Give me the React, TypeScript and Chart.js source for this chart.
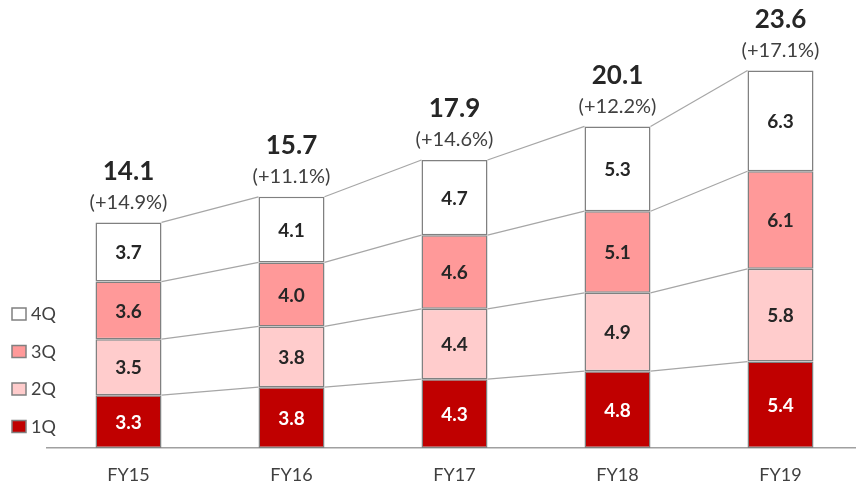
import React, { useEffect, useRef } from "react";
import { Chart, registerables } from "chart.js";

Chart.register(...registerables);

const categories = ["FY15", "FY16", "FY17", "FY18", "FY19"];
const q1 = [3.3, 3.8, 4.3, 4.8, 5.4];
const q2 = [3.5, 3.8, 4.4, 4.9, 5.8];
const q3 = [3.6, 4.0, 4.6, 5.1, 6.1];
const q4 = [3.7, 4.1, 4.7, 5.3, 6.3];
const totals = ["14.1", "15.7", "17.9", "20.1", "23.6"];
const growth = ["(+14.9%)", "(+11.1%)", "(+14.6%)", "(+12.2%)", "(+17.1%)"];
const seriesLabels = ["1Q", "2Q", "3Q", "4Q"];
const seriesColors = ["#C00000", "#FFCCCC", "#FF9999", "#FFFFFF"];
const labelColors = ["#FFFFFF", "#262626", "#262626", "#262626"];

const FONT = "Lato, 'Liberation Sans', sans-serif";

const overlay = {
  id: "overlay",
  afterDatasetsDraw(chart: any) {
    const ctx = chart.ctx;
    ctx.save();
    // connector lines
    ctx.strokeStyle = "#A6A6A6";
    ctx.lineWidth = 1.2;
    chart.data.datasets.forEach((_ds: any, i: number) => {
      const meta = chart.getDatasetMeta(i);
      for (let j = 0; j < meta.data.length - 1; j++) {
        const a = meta.data[j];
        const b = meta.data[j + 1];
        ctx.beginPath();
        ctx.moveTo(a.x + a.width / 2, a.y);
        ctx.lineTo(b.x - b.width / 2, b.y);
        ctx.stroke();
      }
    });
    // segment labels
    ctx.textAlign = "center";
    ctx.textBaseline = "middle";
    chart.data.datasets.forEach((ds: any, i: number) => {
      const meta = chart.getDatasetMeta(i);
      ctx.fillStyle = labelColors[i];
      ctx.font = `bold 19px ${FONT}`;
      meta.data.forEach((bar: any, j: number) => {
        ctx.fillText(ds.data[j].toFixed(1), bar.x, (bar.y + bar.base) / 2 + 1);
      });
    });
    // totals
    const top = chart.getDatasetMeta(chart.data.datasets.length - 1);
    top.data.forEach((bar: any, j: number) => {
      ctx.fillStyle = "#262626";
      ctx.font = `bold 26px ${FONT}`;
      ctx.fillText(totals[j], bar.x, bar.y - 51);
      ctx.fillStyle = "#404040";
      ctx.font = `20px ${FONT}`;
      ctx.fillText(growth[j], bar.x, bar.y - 20);
    });
    // legend
    const order = [3, 2, 1, 0];
    ctx.textAlign = "left";
    order.forEach((di, k) => {
      const y = 308 + k * 37.5;
      ctx.fillStyle = seriesColors[di];
      ctx.fillRect(12, y, 14, 12);
      ctx.strokeStyle = "#808080";
      ctx.lineWidth = 1.5;
      ctx.strokeRect(12, y, 14, 12);
      ctx.fillStyle = "#404040";
      ctx.font = `18px ${FONT}`;
      ctx.fillText(chart.data.datasets[di].label, 31, y + 6.5);
    });
    ctx.restore();
  },
};

export default function App() {
  const ref = useRef<HTMLCanvasElement | null>(null);
  useEffect(() => {
    if (!ref.current) return;
    const values = [q1, q2, q3, q4];
    const chart = new Chart(ref.current, {
      type: "bar",
      data: {
        labels: categories,
        datasets: values.map((d, i) => ({
          label: seriesLabels[i],
          data: d,
          backgroundColor: seriesColors[i],
          borderColor: "#808080",
          borderWidth: 1.5,
          borderSkipped: false,
          barPercentage: 0.405,
          categoryPercentage: 1,
        })),
      },
      options: {
        responsive: false,
        animation: false,
        devicePixelRatio: 1,
        layout: { padding: { left: 47, right: 0, top: 0, bottom: 0 } },
        plugins: { legend: { display: false }, tooltip: { enabled: false } },
        scales: {
          x: {
            stacked: true,
            grid: { display: false, drawTicks: false },
            border: { display: true, color: "#A0A0A0", width: 1.5 },
            ticks: { color: "#404040", font: { family: FONT, size: 18 }, padding: 16 },
            afterFit: (scale: any) => {
              scale.height = 41;
            },
          },
          y: { stacked: true, display: false, min: 0, max: 28 },
        },
      },
      plugins: [overlay],
    });
    return () => chart.destroy();
  }, []);
  return (
    <div style={{ position: "fixed", left: 0, top: 0, width: 856, height: 489, overflow: "hidden", background: "#fff" }}>
      <canvas ref={ref} width={862} height={489} />
    </div>
  );
}
